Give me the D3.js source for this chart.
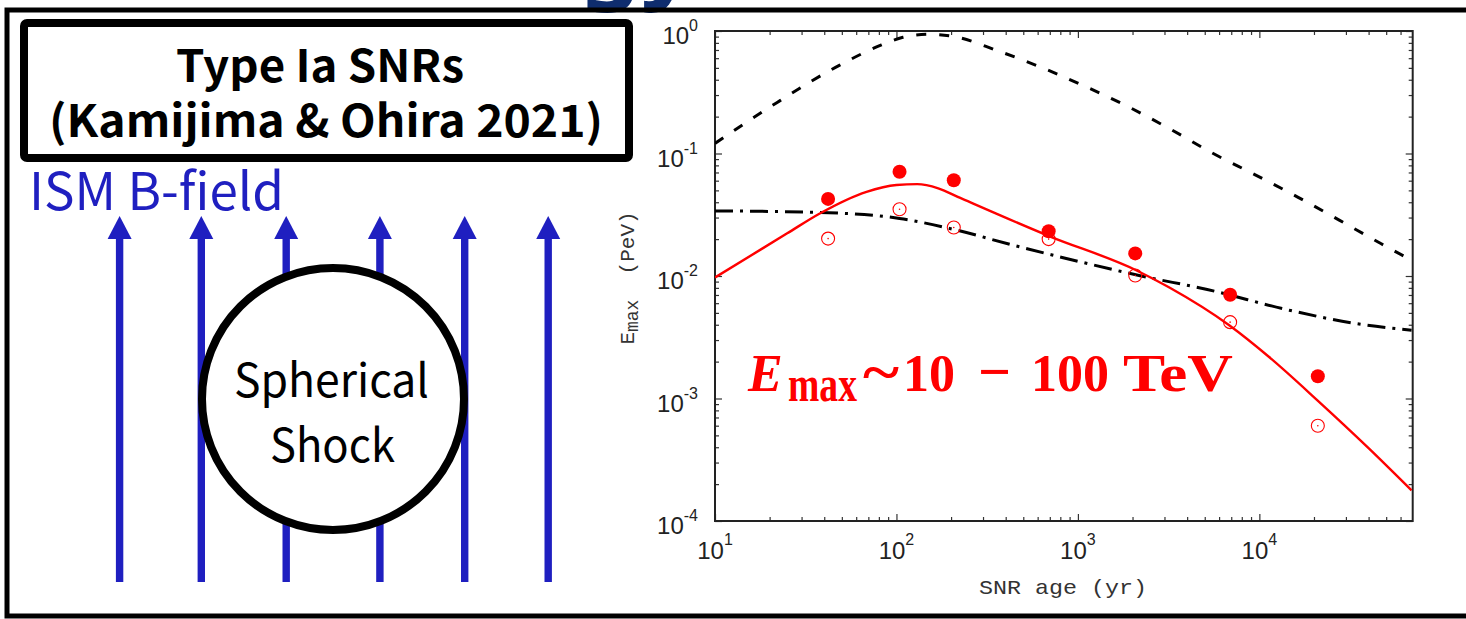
<!DOCTYPE html>
<html>
<head>
<meta charset="utf-8">
<script src="https://cdn.jsdelivr.net/npm/d3@7"></script>
<style>
	body { margin: 0; background: #fff; }
	svg { display: block; }
</style>
</head>
<body>
<svg id="chart" width="1466" height="619"></svg>
<script>
// SNR sample (Kamijima & Ohira 2021, type Ia)
const snrAge = [42, 104, 207, 690, 2070, 6900, 21000];
const emaxFilled = [0.0426, 0.0710, 0.0604, 0.0232, 0.0153, 0.00702, 0.00152];
const emaxOpen = [0.0202, 0.0351, 0.0249, 0.0200, 0.0101, 0.0042, 0.00060];

// model curves
const modelAge = [10, 25, 37.8, 68.4, 100, 130, 170, 223, 698, 2094, 3193, 6820, 11320, 20890, 40250, 69000];
const modelEmax = [0.00972, 0.0223, 0.0324, 0.0487, 0.0553, 0.0562, 0.0520, 0.0436, 0.0211, 0.01115, 0.00805, 0.00396, 0.00218, 0.000967, 0.00039, 0.000178];

const dashAge = [10, 21.9, 48.7, 82.7, 108.6, 149, 205, 361, 628, 1110, 1925, 3260, 5500, 9490, 16170, 27550, 46700, 69000];
const dashEmax = [0.121, 0.260, 0.527, 0.769, 0.888, 0.940, 0.905, 0.690, 0.505, 0.350, 0.238, 0.157, 0.101, 0.067, 0.0443, 0.0286, 0.0184, 0.01346];

const dotAge = [10, 37.8, 104, 207, 436, 1042, 2265, 5160, 14600, 34000, 69000];
const dotEmax = [0.0340, 0.0330, 0.0295, 0.0240, 0.0179, 0.0130, 0.00996, 0.00776, 0.00526, 0.00409, 0.00361];

const xMajor = [10, 100, 1000, 10000];
const yMajor = [1e-4, 1e-3, 1e-2, 1e-1, 1];

const svg = d3.select('#chart');
const red = '#ff0000';
const blue = '#1f1fc0';

let x = d3.scaleLog().domain([10, 7e4]).range([715, 1412.7]);
let y = d3.scaleLog().domain([1e-4, 1]).range([521, 31]);

// minor ticks 2..9 in each decade
let xMinor = [];
[10, 100, 1000, 10000].forEach((d) => {
	for (let k = 2; k <= 9; k++) {
		if (d * k < 7e4) xMinor.push(d * k);
	}
});
let yMinor = [];
[1e-4, 1e-3, 1e-2, 1e-1].forEach((d) => {
	for (let k = 2; k <= 9; k++) yMinor.push(d * k);
});

// ---------- left panel (diagram) ----------
svg.append('text')
	.attr('x', 580)
	.attr('y', -10)
	.attr('font-family', 'Noto Sans, sans-serif')
	.attr('font-weight', 'bold')
	.attr('font-size', 96)
	.attr('fill', '#0f2d6e')
	.text('gy');

svg.append('rect')
	.attr('x', 7).attr('y', 10)
	.attr('width', 1480).attr('height', 606)
	.attr('fill', 'none')
	.attr('stroke', '#000')
	.attr('stroke-width', 5);

svg.append('rect')
	.attr('x', 24).attr('y', 23)
	.attr('width', 605).attr('height', 135)
	.attr('rx', 3)
	.attr('fill', '#fff')
	.attr('stroke', '#000')
	.attr('stroke-width', 8);

const jpFont = '"Noto Sans CJK JP", "Noto Sans", sans-serif';

svg.append('text')
	.attr('x', 320).attr('y', 82)
	.attr('text-anchor', 'middle')
	.attr('font-family', jpFont)
	.attr('font-weight', 'bold')
	.attr('font-size', 44)
	.attr('textLength', 288)
	.attr('lengthAdjust', 'spacingAndGlyphs')
	.text('Type Ia SNRs');
svg.append('text')
	.attr('x', 326).attr('y', 137)
	.attr('text-anchor', 'middle')
	.attr('font-family', jpFont)
	.attr('font-weight', 'bold')
	.attr('font-size', 44)
	.attr('textLength', 554)
	.attr('lengthAdjust', 'spacingAndGlyphs')
	.text('(Kamijima & Ohira 2021)');

svg.append('text')
	.attr('x', 29).attr('y', 210)
	.attr('font-family', jpFont)
	.attr('font-size', 52)
	.attr('fill', blue)
	.attr('textLength', 255)
	.attr('lengthAdjust', 'spacingAndGlyphs')
	.text('ISM B-field');

// field lines
const fieldX = [119.6, 201.3, 286.2, 379.9, 464.7, 548.2];
let arrows = svg.append('g').attr('class', 'field');
fieldX.forEach((fx) => {
	arrows.append('rect')
		.attr('x', fx - 3.7).attr('y', 236)
		.attr('width', 7.4).attr('height', 346)
		.attr('fill', blue);
	arrows.append('path')
		.attr('d', 'M' + (fx - 12) + ',239L' + (fx + 12) + ',239L' + fx + ',216Z')
		.attr('fill', blue);
});

svg.append('circle')
	.attr('cx', 333).attr('cy', 399)
	.attr('r', 131)
	.attr('fill', '#fff')
	.attr('stroke', '#000')
	.attr('stroke-width', 8);

svg.append('text')
	.attr('x', 331.5).attr('y', 397)
	.attr('text-anchor', 'middle')
	.attr('font-family', jpFont)
	.attr('font-size', 46)
	.attr('textLength', 195)
	.attr('lengthAdjust', 'spacingAndGlyphs')
	.text('Spherical');
svg.append('text')
	.attr('x', 332.5).attr('y', 462)
	.attr('text-anchor', 'middle')
	.attr('font-family', jpFont)
	.attr('font-size', 46)
	.attr('textLength', 125)
	.attr('lengthAdjust', 'spacingAndGlyphs')
	.text('Shock');

// ---------- right panel (plot) ----------
let plot = svg.append('g').attr('class', 'plot');

plot.append('defs').append('clipPath')
	.attr('id', 'clip')
	.append('rect')
	.attr('x', 715).attr('y', 31)
	.attr('width', 1412.7 - 715).attr('height', 521 - 31);

function drawTicks(axis, pos, transform, values, size) {
	let g = plot.append('g')
		.attr('transform', transform)
		.call(axis(pos).tickValues(values).tickSize(size).tickSizeOuter(0).tickFormat(''));
	g.select('.domain').remove();
	g.selectAll('line').attr('stroke', '#333').attr('stroke-width', 1.2);
}

drawTicks(d3.axisBottom, x, 'translate(0,521)', xMajor, -7);
drawTicks(d3.axisBottom, x, 'translate(0,521)', xMinor, -4);
drawTicks(d3.axisTop, x, 'translate(0,31)', xMajor, -7);
drawTicks(d3.axisTop, x, 'translate(0,31)', xMinor, -4);
drawTicks(d3.axisLeft, y, 'translate(715,0)', yMajor, -7);
drawTicks(d3.axisLeft, y, 'translate(715,0)', yMinor, -4);
drawTicks(d3.axisRight, y, 'translate(1412.7,0)', yMajor, -7);
drawTicks(d3.axisRight, y, 'translate(1412.7,0)', yMinor, -4);

plot.append('rect')
	.attr('x', 715).attr('y', 31)
	.attr('width', 1412.7 - 715).attr('height', 521 - 31)
	.attr('fill', 'none')
	.attr('stroke', '#222')
	.attr('stroke-width', 2);

// tick labels 10^n
const tickFont = '"Liberation Sans", Arial, sans-serif';
xMajor.forEach((d) => {
	let t = plot.append('text')
		.attr('x', x(d)).attr('y', 559)
		.attr('text-anchor', 'middle')
		.attr('font-family', tickFont)
		.attr('font-size', 24)
		.attr('fill', '#222');
	t.append('tspan').text('10');
	t.append('tspan').attr('dy', -14).attr('font-size', 16).text(Math.round(Math.log10(d)));
});
yMajor.forEach((d) => {
	let t = plot.append('text')
		.attr('x', 698).attr('y', y(d) + 13)
		.attr('text-anchor', 'end')
		.attr('font-family', tickFont)
		.attr('font-size', 24)
		.attr('fill', '#222');
	t.append('tspan').text('10');
	t.append('tspan').attr('dy', -13).attr('font-size', 16).text(Math.round(Math.log10(d)));
});

// axis titles
const monoFont = '"Liberation Mono", "DejaVu Sans Mono", monospace';
plot.append('text')
	.attr('x', 1063).attr('y', 594)
	.attr('text-anchor', 'middle')
	.attr('font-family', monoFont)
	.attr('font-size', 21)
	.attr('fill', '#333')
	.attr('textLength', 168)
	.attr('lengthAdjust', 'spacingAndGlyphs')
	.text('SNR age (yr)');

let yt = plot.append('text')
	.attr('transform', 'translate(634,278) rotate(-90)')
	.attr('text-anchor', 'middle')
	.attr('font-family', monoFont)
	.attr('font-size', 21)
	.attr('fill', '#333')
	.attr('xml:space', 'preserve');
yt.append('tspan').text('E');
yt.append('tspan').attr('dy', 4).attr('font-size', 18).text('max');
yt.append('tspan').attr('dy', -4).text('  (PeV)');

// curves
let line = d3.line()
	.x((d) => x(d[0]))
	.y((d) => y(d[1]))
	.curve(d3.curveMonotoneX);

let curves = plot.append('g').attr('clip-path', 'url(#clip)');

curves.append('path')
	.datum(dashAge.map((a, i) => [a, dashEmax[i]]))
	.attr('d', line)
	.attr('fill', 'none')
	.attr('stroke', '#000')
	.attr('stroke-width', 3)
	.attr('stroke-dasharray', '10,13');

curves.append('path')
	.datum(dotAge.map((a, i) => [a, dotEmax[i]]))
	.attr('d', line)
	.attr('fill', 'none')
	.attr('stroke', '#000')
	.attr('stroke-width', 3)
	.attr('stroke-dasharray', '18,7,3,7');

curves.append('path')
	.datum(modelAge.map((a, i) => [a, modelEmax[i]]))
	.attr('d', line)
	.attr('fill', 'none')
	.attr('stroke', red)
	.attr('stroke-width', 2.4);

// data points
plot.selectAll('circle.filled')
	.data(snrAge)
	.enter().append('circle')
	.attr('class', 'filled')
	.attr('cx', (d) => x(d))
	.attr('cy', (d, i) => y(emaxFilled[i]))
	.attr('r', 7)
	.attr('fill', red);

plot.selectAll('circle.open')
	.data(snrAge)
	.enter().append('circle')
	.attr('class', 'open')
	.attr('cx', (d) => x(d))
	.attr('cy', (d, i) => y(emaxOpen[i]))
	.attr('r', 6.5)
	.attr('fill', 'none')
	.attr('stroke', red)
	.attr('stroke-width', 1.1);

plot.selectAll('circle.centre')
	.data(snrAge)
	.enter().append('circle')
	.attr('class', 'centre')
	.attr('cx', (d) => x(d))
	.attr('cy', (d, i) => y(emaxOpen[i]))
	.attr('r', 0.8)
	.attr('fill', red);

// annotation E_max ~ 10 - 100 TeV
const serif = '"Liberation Serif", "DejaVu Serif", serif';
let note = plot.append('text')
	.attr('font-family', serif)
	.attr('font-weight', 'bold')
	.attr('font-size', 52)
	.attr('fill', red);
note.append('tspan').attr('x', 748).attr('y', 391).attr('font-style', 'italic').text('E');
note.append('tspan').attr('x', 788).attr('y', 401).attr('font-size', 50)
	.attr('textLength', 69).attr('lengthAdjust', 'spacingAndGlyphs').text('max');
note.append('tspan').attr('x', 863).attr('y', 391).attr('font-size', 58)
	.attr('textLength', 36).attr('lengthAdjust', 'spacingAndGlyphs').text('~');
note.append('tspan').attr('x', 903).attr('y', 391).text('10');
note.append('tspan').attr('x', 978).attr('y', 391).attr('font-size', 58).text('\u2212');
note.append('tspan').attr('x', 1031).attr('y', 391).text('100');
note.append('tspan').attr('x', 1123).attr('y', 391)
	.attr('textLength', 110).attr('lengthAdjust', 'spacingAndGlyphs').text('TeV');
</script>
</body>
</html>
